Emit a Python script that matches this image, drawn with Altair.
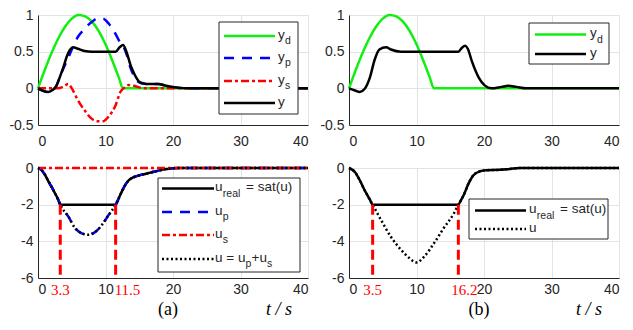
import altair as alt
import pandas as pd

# ---------------- data ----------------
X_TICKS = [0, 10, 20, 30, 40]
Y_TOP_TICKS = [-0.5, 0, 0.5, 1]
Y_BOT_TICKS = [-6, -4, -2, 0]

# desired output y_d (both panels)
YD_T = [0, 1, 2, 3, 4, 5, 6, 7, 8, 9, 10, 11, 12, 12.57, 40]
YD_V = [0, 0.25, 0.48, 0.68, 0.84, 0.95, 1.0, 0.98, 0.91, 0.78, 0.6, 0.38, 0.14, 0, 0]

# panel (a) top
A_Y_T = [0, 0.7, 1.5, 2.2, 2.7, 3.3, 3.8, 4.25, 4.7, 5.2, 5.9, 6.9, 8, 11.5, 12.1, 12.6,
         13.1, 13.7, 14.2, 14.9, 15.5, 16, 17.8, 19, 20.4, 22.4, 40]
A_Y_V = [0, -0.03, -0.05, -0.02, 0.03, 0.17, 0.3, 0.43, 0.52, 0.56, 0.54, 0.51, 0.5, 0.5, 0.56, 0.59,
         0.5, 0.32, 0.21, 0.1, 0.07, 0.06, 0.06, 0.035, 0.013, 0, 0]
A_YP_T = [0, 1.5, 2.2, 2.7, 3.3, 3.8, 4.5, 5.2, 5.9, 6.9, 7.9, 8.8, 9.6, 10.5, 11.5, 12.2, 12.6,
          13.1, 13.7, 14.2, 14.9, 15.5, 16, 17.8, 19, 20.4, 22.4, 40]
A_YP_V = [0, -0.05, -0.02, 0.03, 0.17, 0.28, 0.42, 0.57, 0.7, 0.81, 0.9, 0.95, 0.95, 0.88, 0.74, 0.62, 0.58,
          0.47, 0.28, 0.175, 0.085, 0.065, 0.06, 0.06, 0.035, 0.013, 0, 0]
A_YS_T = [0, 3, 3.7, 4.5, 5.0, 5.9, 6.9, 7.9, 8.8, 9.6, 10.5, 11.5, 12.2, 12.8, 13.4, 14.2, 15.1, 16, 40]
A_YS_V = [0, 0, 0.02, 0.06, 0.0, -0.16, -0.3, -0.41, -0.45, -0.45, -0.38, -0.23, -0.05, 0.01, 0.045, 0.035, 0.01, 0, 0]

# panel (b) top
B_Y_T = [0, 0.9, 1.6, 2.3, 3.1, 3.8, 4.5, 5.5, 6.2, 7.7, 16.2, 16.7, 17.2, 17.6, 18.2, 19.2, 20.1,
         21.1, 22.6, 23.6, 24.8, 26.2, 40]
B_Y_V = [0, -0.03, -0.05, -0.01, 0.15, 0.39, 0.53, 0.56, 0.53, 0.5, 0.5, 0.55, 0.58, 0.54, 0.37, 0.15, 0.04,
         0.0, 0.02, 0.035, 0.02, 0, 0]

# panel (a) bottom
A_UR_T = [0, 0.5, 1, 1.5, 2, 2.5, 3, 3.3, 11.5, 12, 12.5, 13, 13.5, 14, 14.5, 15, 16, 17, 18, 19, 20, 21, 40]
A_UR_V = [0, -0.1, -0.35, -0.7, -1.02, -1.37, -1.73, -2, -2, -1.62, -1.22, -0.88, -0.65, -0.53, -0.46,
          -0.4, -0.31, -0.22, -0.13, -0.06, -0.01, 0, 0]
A_U_T = [0, 0.5, 1, 1.5, 2, 2.5, 3, 3.3, 4.5, 5.5, 6.4, 7.4, 8.4, 9.3, 10.3, 11.5, 12, 12.5, 13, 13.5,
         14, 14.5, 15, 16, 17, 18, 19, 20, 21, 40]
A_U_V = [0, -0.1, -0.35, -0.7, -1.02, -1.37, -1.73, -2, -2.65, -3.28, -3.55, -3.64, -3.51, -3.19, -2.65, -2,
         -1.62, -1.22, -0.88, -0.65, -0.53, -0.46, -0.4, -0.31, -0.22, -0.13, -0.06, -0.01, 0, 0]
A_US_T = [0, 40]
A_US_V = [0, 0]
A_SAT_T = [3.3, 11.5]
A_SAT_LABELS = ["3.3", "11.5"]

# panel (b) bottom
B_UR_T = [0, 0.9, 1.6, 2.3, 3.1, 3.5, 16.2, 16.6, 17, 17.7, 18.4, 19.4, 20.4, 22.3, 23.8, 25.3, 40]
B_UR_V = [0, -0.23, -0.67, -1.2, -1.73, -2, -2, -1.75, -1.47, -0.85, -0.41, -0.18, -0.12, -0.1, -0.05, 0, 0]
B_U_T = [0, 0.9, 1.6, 2.3, 3.1, 3.5, 4.8, 6.2, 7.7, 8.9, 10, 11.1, 12.6, 14, 15.5, 16.2, 16.6, 17, 17.7,
         18.4, 19.4, 20.4, 22.3, 23.8, 25.3, 40]
B_U_V = [0, -0.23, -0.67, -1.2, -1.73, -2, -2.87, -3.75, -4.46, -4.9, -5.15, -4.85, -4.1, -3.3, -2.5, -2,
         -1.75, -1.47, -0.85, -0.41, -0.18, -0.12, -0.1, -0.05, 0, 0]
B_SAT_T = [3.5, 16.2]
B_SAT_LABELS = ["3.5", "16.2"]

U_SAT = -2
U_MIN = -6
PANEL_TAGS = ["(a)", "(b)"]
TIME_LABEL = "t / s"

# ---------------- styling ----------------
W, H = 270, 110
SANS = "Liberation Sans"
SERIF = "Liberation Serif"
GREEN = "#11ee11"
BLUE = "#0000ff"
RED = "#ff0000"
BLACK = "#000000"
DASH = [10, 8]
DASHDOT = [8, 3, 3, 3]
DOT = [2, 2.5]
LW = 2.5
A_SAT_ALIGN = [("center", 0), ("left", -1)]
B_SAT_ALIGN = [("center", 0), ("center", 6)]


def enc_x(pad):
    return alt.X("t:Q", scale=alt.Scale(domain=[0, 40], nice=False, zero=False),
                 axis=alt.Axis(values=X_TICKS, title=None, labelPadding=pad, format="d"))


def enc_y(dom, ticks):
    return alt.Y("v:Q", scale=alt.Scale(domain=dom, nice=False, zero=False),
                 axis=alt.Axis(values=ticks, title=None, labelPadding=5,
                               labelExpr="'' + datum.value"))


def series(ts, vs, color, dash, xe, ye):
    kw = dict(color=color, strokeWidth=LW, interpolate="monotone", strokeCap="butt")
    if dash:
        kw["strokeDash"] = dash
    return alt.Chart(pd.DataFrame({"t": ts, "v": vs})).mark_line(**kw).encode(x=xe, y=ye)


def one():
    return alt.Data(values=[{"k": 1}])


def box(x1, x2, y1, y2):
    return alt.Chart(one()).mark_rect(fill="white", stroke="#262626", strokeWidth=1).encode(
        x=alt.value(x1), x2=alt.value(x2), y=alt.value(y1), y2=alt.value(y2))


def sample(x1, x2, y, color, dash):
    kw = dict(color=color, strokeWidth=LW, strokeCap="butt")
    if dash:
        kw["strokeDash"] = dash
    return alt.Chart(one()).mark_rule(**kw).encode(x=alt.value(x1), x2=alt.value(x2), y=alt.value(y))


def txt(s, x, y, size, font=SANS, color="#262626", style="normal", baseline="alphabetic", align="left"):
    return alt.Chart(one()).mark_text(text=s, font=font, fontSize=size, color=color, fontStyle=style,
                                      baseline=baseline, align=align).encode(x=alt.value(x), y=alt.value(y))


def label_sub(main, sub, x, row, rest=None, rest_dx=None, sub_dx=7):
    out = [txt(main, x, row + 2.5, 13.5), txt(sub, x + sub_dx, row + 8, 10.5)]
    if rest is not None:
        out.append(txt(rest, x + rest_dx, row + 2.5, 13.5))
    return out


# ---------------- top (a) ----------------
xa = enc_x(9)
ya = enc_y([-0.5, 1], Y_TOP_TICKS)
lx, sx1, sx2 = 240, 186, 237
rows = [21, 43, 66, 88]
tl_layers = [
    series(YD_T, YD_V, GREEN, None, xa, ya),
    series(A_YP_T, A_YP_V, BLUE, DASH, xa, ya),
    series(A_YS_T, A_YS_V, RED, DASHDOT, xa, ya),
    series(A_Y_T, A_Y_V, BLACK, None, xa, ya),
    box(181, 260, 7, 99),
    sample(sx1, sx2, rows[0], GREEN, None),
    sample(sx1, sx2, rows[1], BLUE, DASH),
    sample(sx1, sx2, rows[2], RED, DASHDOT),
    sample(sx1, sx2, rows[3], BLACK, None),
]
tl_layers += label_sub("y", "d", lx, rows[0])
tl_layers += label_sub("y", "p", lx, rows[1])
tl_layers += label_sub("y", "s", lx, rows[2])
tl_layers.append(txt("y", lx, rows[3] + 2.5, 13.5))
TL = alt.layer(*tl_layers).properties(width=W, height=H)

# ---------------- top (b) ----------------
xb = enc_x(9)
yb = enc_y([-0.5, 1], Y_TOP_TICKS)
rowsb = [19.5, 39]
tr_layers = [
    series(YD_T, YD_V, GREEN, None, xb, yb),
    series(B_Y_T, B_Y_V, BLACK, None, xb, yb),
    box(180, 260, 8, 49),
    sample(186, 237, rowsb[0], GREEN, None),
    sample(186, 237, rowsb[1], BLACK, None),
]
tr_layers += label_sub("y", "d", 241, rowsb[0])
tr_layers.append(txt("y", 241, rowsb[1] + 2.5, 13.5))
TR = alt.layer(*tr_layers).properties(width=W, height=H)


# ---------------- bottom helpers ----------------
def sat_layers(ts, labels, aligns, xe, ye):
    df = pd.DataFrame({"t": ts, "v": [U_SAT] * len(ts), "v2": [U_MIN] * len(ts), "lab": labels})
    out = [alt.Chart(df).mark_rule(color=RED, strokeWidth=3, strokeDash=[10, 5], strokeCap="butt").encode(
        x=xe, y=ye, y2="v2:Q")]
    for i, (al, dx) in enumerate(aligns):
        out.append(alt.Chart(df.iloc[[i]]).mark_text(
            font=SERIF, fontSize=15, color=RED, baseline="middle", align=al, dx=dx).encode(
            x=xe, y=alt.value(H + 12), text="lab:N"))
    return out


# ---------------- bottom (a) ----------------
xc = enc_x(4)
yc = enc_y([-6, 0], Y_BOT_TICKS)
rowsc = [20.5, 44, 67, 91]
lc = 177
bl_layers = [
    series(A_UR_T, A_UR_V, BLACK, None, xc, yc),
    series(A_U_T, A_U_V, BLUE, DASH, xc, yc),
    series(A_US_T, A_US_V, RED, DASHDOT, xc, yc),
    series(A_U_T, A_U_V, BLACK, DOT, xc, yc),
]
bl_layers += sat_layers(A_SAT_T, A_SAT_LABELS, A_SAT_ALIGN, xc, yc)
bl_layers += [
    box(120, 262, 10, 104),
    sample(124, 176, rowsc[0], BLACK, None),
    sample(124, 176, rowsc[1], BLUE, DASH),
    sample(124, 176, rowsc[2], RED, DASHDOT),
    sample(124, 176, rowsc[3], BLACK, DOT),
]
bl_layers += label_sub("u", "real", lc, rowsc[0], "= sat(u)", 31, sub_dx=7.8)
bl_layers += label_sub("u", "p", lc, rowsc[1], sub_dx=7.8)
bl_layers += label_sub("u", "s", lc, rowsc[2], sub_dx=7.8)
bl_layers += [
    txt("u = u", lc, rowsc[3] + 2.5, 13.5),
    txt("p", lc + 30.5, rowsc[3] + 8, 10.5),
    txt("+u", lc + 36.5, rowsc[3] + 2.5, 13.5),
    txt("s", lc + 52, rowsc[3] + 8, 10.5),
    txt(PANEL_TAGS[0], 130, H + 32, 18, font=SERIF, color=BLACK, baseline="middle", align="center"),
    txt(TIME_LABEL, 241, H + 32, 18, font=SERIF, color=BLACK, style="italic", baseline="middle", align="center"),
]
BL = alt.layer(*bl_layers).properties(width=W, height=H)

# ---------------- bottom (b) ----------------
xd = enc_x(4)
yd = enc_y([-6, 0], Y_BOT_TICKS)
rowsd = [42.5, 61]
ld = 180
br_layers = [
    series(B_UR_T, B_UR_V, BLACK, None, xd, yd),
    series(B_U_T, B_U_V, BLACK, DOT, xd, yd),
]
br_layers += sat_layers(B_SAT_T, B_SAT_LABELS, B_SAT_ALIGN, xd, yd)
br_layers += [
    box(120, 259, 31, 71),
    sample(126, 177, rowsd[0], BLACK, None),
    sample(126, 177, rowsd[1], BLACK, DOT),
]
br_layers += label_sub("u", "real", ld, rowsd[0], "= sat(u)", 31, sub_dx=7.8)
br_layers += [
    txt("u", ld, rowsd[1] + 2.5, 13.5),
    txt(PANEL_TAGS[1], 130, H + 32, 18, font=SERIF, color=BLACK, baseline="middle", align="center"),
    txt(TIME_LABEL, 240, H + 32, 18, font=SERIF, color=BLACK, style="italic", baseline="middle", align="center"),
]
BR = alt.layer(*br_layers).properties(width=W, height=H)

chart = alt.concat(TL, TR, BL, BR, columns=2, spacing={"row": 43, "column": 41}, bounds="flush").properties(
    padding=0
).configure_axis(
    labelFont=SANS, labelFontSize=14, labelColor="#262626",
    domainColor="#262626", domainWidth=1,
    gridColor="#e3e3e3", gridWidth=1, grid=True,
    ticks=False, tickSize=0,
).configure_view(stroke=None)

chart.save("out.html", embed_options={"renderer": "svg", "actions": False})
